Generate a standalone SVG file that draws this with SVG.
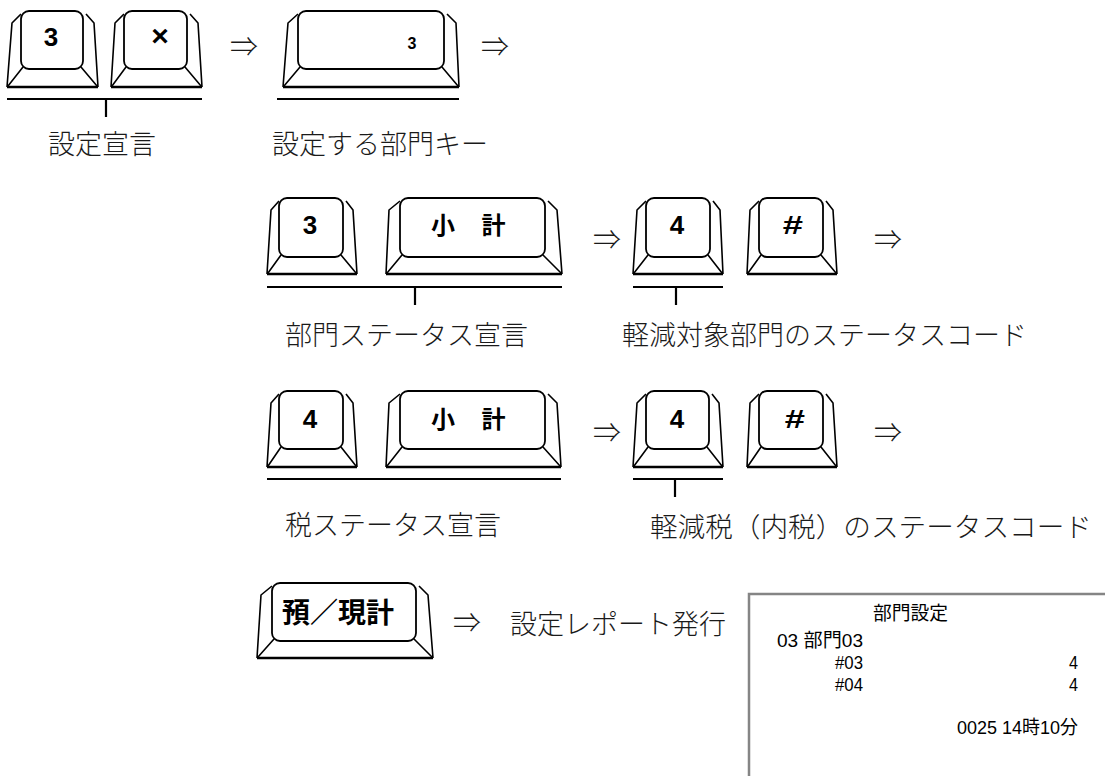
<svg xmlns="http://www.w3.org/2000/svg" width="1105" height="776" viewBox="0 0 1105 776">
<style>
.face{fill:#fff;stroke:#000;stroke-width:1.8}
.ln{fill:none;stroke:#000;stroke-width:1.6;stroke-linejoin:round}
.base{fill:none;stroke:#000;stroke-width:2.4}
.br{fill:none;stroke:#000;stroke-width:2.2}
.kl{font-family:"Liberation Sans",Arial,sans-serif;font-weight:bold;fill:#000;text-anchor:middle}
.kj{font-family:"Noto Sans CJK JP","Noto Sans",sans-serif;font-weight:bold;fill:#000}
.lb{font-family:"Noto Sans CJK JP","Noto Sans",sans-serif;font-size:27px;font-weight:300;fill:#1a1a1a}
.ar{font-family:"Noto Sans CJK JP","DejaVu Sans",sans-serif;font-size:28px;font-weight:300;fill:#1a1a1a;text-anchor:middle}
.rc{font-family:"Liberation Sans","Noto Sans CJK JP",sans-serif;font-size:19px;fill:#000}
</style>
<rect width="1105" height="776" fill="#fff"/>

<g id="connectors">
<path class="br" d="M7,99 H202 M106,99 V117"/>
<path class="br" d="M277,99 H459"/>
<path class="br" d="M267,287 H562 M415,287 V305"/>
<path class="br" d="M633,287 H723 M676,287 V305"/>
<path class="br" d="M267,479 H561"/>
<path class="br" d="M633,479 H723 M675,479 V497"/>
</g>

<g id="arrows">
<text class="ar" x="244" y="57">⇒</text>
<text class="ar" x="495" y="57">⇒</text>
<text class="ar" x="607" y="250">⇒</text>
<text class="ar" x="888" y="250">⇒</text>
<text class="ar" x="607" y="443">⇒</text>
<text class="ar" x="888" y="443">⇒</text>
<text class="ar" x="467" y="633">⇒</text>
</g>

<g id="key-3a">
<path class="ln" d="M7,87 L12,23 L21,14 M86,14 L94,23 L98,87 M23,67 L8,86 M81,67 L97,86"/>
<rect class="face" x="21" y="11" width="62" height="58" rx="8"/>
<path class="base" d="M7,87 H98"/>
<text class="kl" x="51" y="46" font-size="26">3</text>
</g>
<g id="key-x">
<path class="ln" d="M111,87 L115,23 L124,14 M190,14 L198,23 L202,87 M126,67 L112,86 M185,67 L201,86"/>
<rect class="face" x="124" y="11" width="63" height="58" rx="8"/>
<path class="base" d="M111,87 H202"/>
<text class="kl" x="160" y="46" font-size="30">×</text>
</g>
<g id="key-dept">
<path class="ln" d="M283,87 L288,23 L298,14 M447,14 L456,23 L459,87 M300,67 L284,86 M442,67 L458,86"/>
<rect class="face" x="298" y="11" width="146" height="58" rx="8"/>
<path class="base" d="M283,87 H459"/>
<text class="kl" x="412" y="49" font-size="16">3</text>
</g>

<g id="key-3b">
<path class="ln" d="M267,274 L271,210 L279,201 M346,201 L353,210 L357,274 M281,255 L268,273 M341,255 L356,273"/>
<rect class="face" x="279" y="198" width="64" height="59" rx="8"/>
<path class="base" d="M267,274 H357"/>
<text class="kl" x="310" y="234" font-size="26">3</text>
</g>
<g id="key-subtotal-a">
<path class="ln" d="M386,274 L389,210 L400,201 M548,201 L557,210 L562,274 M402,255 L387,273 M543,255 L561,273"/>
<rect class="face" x="400" y="198" width="145" height="59" rx="8"/>
<path class="base" d="M386,274 H562"/>
<text class="kj" x="431" y="234" font-size="24" style="word-spacing:21px">小 計</text>
</g>
<g id="key-4a">
<path class="ln" d="M633,274 L637,210 L646,201 M713,201 L720,210 L723,274 M648,255 L634,273 M708,255 L722,273"/>
<rect class="face" x="646" y="198" width="64" height="59" rx="8"/>
<path class="base" d="M633,274 H723"/>
<text class="kl" x="677" y="234" font-size="26">4</text>
</g>
<g id="key-hash-a">
<path class="ln" d="M747,274 L750,210 L759,201 M826,201 L833,210 L837,274 M761,255 L748,273 M821,255 L836,273"/>
<rect class="face" x="759" y="198" width="64" height="59" rx="8"/>
<path class="base" d="M747,274 H837"/>
<text class="kl" x="793" y="234" font-size="26" transform="translate(793,0) scale(1.4,1) translate(-793,0)">#</text>
</g>

<g id="key-4b">
<path class="ln" d="M267,467 L271,403 L279,394 M346,394 L353,403 L357,467 M281,447 L268,466 M341,447 L356,466"/>
<rect class="face" x="279" y="391" width="64" height="58" rx="8"/>
<path class="base" d="M267,467 H357"/>
<text class="kl" x="310" y="428" font-size="26">4</text>
</g>
<g id="key-subtotal-b">
<path class="ln" d="M386,467 L389,403 L400,394 M548,394 L557,403 L561,467 M402,447 L387,466 M543,447 L560,466"/>
<rect class="face" x="400" y="391" width="145" height="58" rx="8"/>
<path class="base" d="M386,467 H561"/>
<text class="kj" x="431" y="428" font-size="24" style="word-spacing:21px">小 計</text>
</g>
<g id="key-4c">
<path class="ln" d="M633,467 L637,403 L646,394 M712,394 L719,403 L723,467 M648,447 L634,466 M707,447 L722,466"/>
<rect class="face" x="646" y="391" width="63" height="58" rx="8"/>
<path class="base" d="M633,467 H723"/>
<text class="kl" x="677" y="428" font-size="26">4</text>
</g>
<g id="key-hash-b">
<path class="ln" d="M747,467 L750,403 L759,394 M826,394 L833,403 L837,467 M761,447 L748,466 M821,447 L836,466"/>
<rect class="face" x="759" y="391" width="64" height="58" rx="8"/>
<path class="base" d="M747,467 H837"/>
<text class="kl" x="795" y="428" font-size="26" transform="translate(795,0) scale(1.4,1) translate(-795,0)">#</text>
</g>

<g id="key-cash">
<path class="ln" d="M257,658 L261,595 L272,586 M419,586 L428,595 L433,658 M274,639 L258,657 M414,639 L432,657"/>
<rect class="face" x="272" y="583" width="144" height="58" rx="8"/>
<path class="base" d="M257,658 H433"/>
<text class="kj" x="282" y="623" font-size="28">預／現計</text>
</g>

<g id="labels">
<text class="lb" x="48" y="154">設定宣言</text>
<text class="lb" x="272" y="154">設定する部門キー</text>
<text class="lb" x="285" y="345">部門ステータス宣言</text>
<text class="lb" x="622" y="345">軽減対象部門のステータスコード</text>
<text class="lb" x="285" y="535">税ステータス宣言</text>
<text class="lb" x="650" y="537" textLength="442" lengthAdjust="spacingAndGlyphs">軽減税（内税）のステータスコード</text>
<text class="lb" x="510" y="634">設定レポート発行</text>
</g>

<g id="receipt">
<rect x="749" y="594" width="420" height="260" fill="#fff" stroke="#858585" stroke-width="2.5"/>
<text class="rc" x="873" y="620" textLength="75" lengthAdjust="spacingAndGlyphs">部門設定</text>
<text class="rc" x="777" y="647" textLength="86" lengthAdjust="spacingAndGlyphs">03 部門03</text>
<text class="rc" x="835" y="669" textLength="28" lengthAdjust="spacingAndGlyphs">#03</text>
<text class="rc" x="1069" y="669" textLength="9" lengthAdjust="spacingAndGlyphs">4</text>
<text class="rc" x="835" y="691" textLength="28" lengthAdjust="spacingAndGlyphs">#04</text>
<text class="rc" x="1069" y="691" textLength="9" lengthAdjust="spacingAndGlyphs">4</text>
<text class="rc" x="957" y="734" textLength="121" lengthAdjust="spacingAndGlyphs">0025 14時10分</text>
</g>
</svg>
